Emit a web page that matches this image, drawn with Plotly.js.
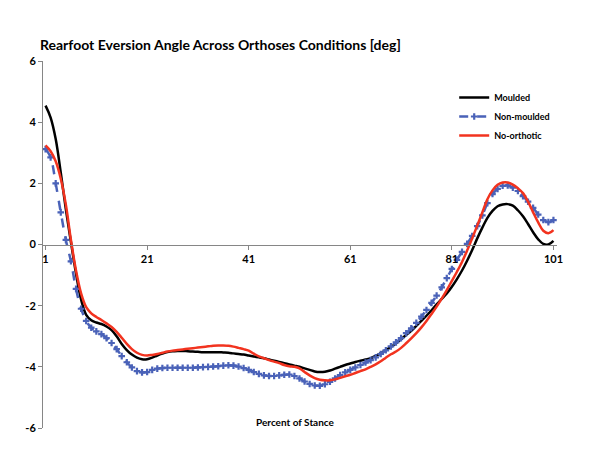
<!DOCTYPE html>
<html>
<head>
<meta charset="utf-8">
<script src="https://cdn.plot.ly/plotly-3.0.1.min.js"></script>
<style>html,body{margin:0;padding:0;background:#fff;}#chart{width:600px;height:473px;}</style>
</head>
<body>
<div id="chart"></div>
<script>
// Percent of stance, 1..101
var stance = [];
for (var i = 1; i <= 101; i++) stance.push(i);

var tickVals = [1, 21, 41, 61, 81, 101];
var tickText = ["1", "21", "41", "61", "81", "101"];
var yTickVals = [-6, -4, -2, 0, 2, 4, 6];
var yTickText = ["-6", "-4", "-2", "0", "2", "4", "6"];

var moulded = [
  4.54, 4.15, 3.45, 2.35, 1.15, 0.08, -0.95, -1.8, -2.3, -2.48,
  -2.55, -2.6, -2.68, -2.8, -3.0, -3.25, -3.45, -3.6, -3.7, -3.75,
  -3.75, -3.7, -3.63, -3.57, -3.52, -3.49, -3.48, -3.48, -3.49, -3.5,
  -3.51, -3.52, -3.52, -3.52, -3.52, -3.53, -3.54, -3.56, -3.58, -3.6,
  -3.63, -3.66, -3.69, -3.72, -3.76, -3.8, -3.84, -3.88, -3.92, -3.96,
  -4.0, -4.05, -4.1, -4.15, -4.17, -4.16, -4.12, -4.06, -4.0, -3.94,
  -3.89, -3.84, -3.8, -3.76, -3.72, -3.64, -3.55, -3.45, -3.35, -3.23,
  -3.1, -2.96, -2.82, -2.66, -2.5, -2.33, -2.15, -1.96, -1.78, -1.6,
  -1.38, -1.13, -0.85, -0.53, -0.18, 0.2, 0.55, 0.87, 1.1, 1.25,
  1.31, 1.32, 1.27, 1.12, 0.92, 0.67, 0.4, 0.17, 0.02, 0.0,
  0.12
];

var nonMoulded = [
  3.12, 2.85, 2.0, 1.05, 0.15, -0.55, -1.45, -2.1, -2.5, -2.72,
  -2.84, -2.93, -3.06, -3.22, -3.42, -3.65, -3.85, -4.02, -4.14, -4.18,
  -4.17, -4.1, -4.06, -4.04, -4.03, -4.03, -4.03, -4.03, -4.03, -4.03,
  -4.02, -4.01, -4.0, -3.99, -3.98, -3.96, -3.95, -3.96, -3.99, -4.04,
  -4.1, -4.17, -4.23, -4.28, -4.3, -4.3, -4.28, -4.26, -4.25, -4.3,
  -4.38, -4.48, -4.56, -4.61, -4.62, -4.57, -4.49, -4.38, -4.27, -4.18,
  -4.1, -4.02, -3.94, -3.86, -3.78, -3.69, -3.58, -3.46, -3.33, -3.2,
  -3.06, -2.9, -2.74, -2.56, -2.36, -2.14, -1.91, -1.67, -1.4, -1.1,
  -0.8, -0.5, -0.24, 0.02, 0.28, 0.6, 0.95, 1.35, 1.65, 1.82,
  1.92, 1.93, 1.86, 1.75, 1.58, 1.4, 1.2, 0.98, 0.8, 0.73,
  0.8
];

var noOrthotic = [
  3.24, 3.05, 2.72, 2.15, 1.3, 0.15, -0.85, -1.6, -2.05, -2.25,
  -2.37, -2.47, -2.58, -2.7, -2.86, -3.05, -3.25, -3.42, -3.54, -3.61,
  -3.63, -3.61, -3.58, -3.54, -3.5, -3.47, -3.45, -3.43, -3.41, -3.39,
  -3.37, -3.35, -3.33, -3.31, -3.3, -3.3, -3.31, -3.34, -3.38, -3.42,
  -3.47, -3.57, -3.66, -3.72, -3.78, -3.83, -3.88, -3.94, -3.98, -4.0,
  -4.05, -4.17, -4.28, -4.37, -4.42, -4.44, -4.44, -4.41, -4.36, -4.31,
  -4.26, -4.2, -4.14, -4.08, -4.0, -3.92, -3.82, -3.7, -3.59, -3.5,
  -3.38, -3.23, -3.07, -2.9, -2.71, -2.5, -2.27, -2.03, -1.77, -1.49,
  -1.19, -0.89, -0.57, -0.2, 0.2, 0.62, 1.05, 1.48, 1.77, 1.95,
  2.03, 2.03, 1.96, 1.84, 1.68, 1.4, 1.05, 0.72, 0.45, 0.37,
  0.47
];

var FONT = "Lato, 'Open Sans', sans-serif";

var traces = [
  {
    x: stance, y: moulded, name: "Moulded", type: "scatter", mode: "lines",
    line: {color: "#000000", width: 2.5, shape: "spline"}
  },
  {
    x: stance, y: nonMoulded, name: "Non-moulded", type: "scatter", mode: "lines+markers",
    line: {color: "#4a62b8", width: 2.5, dash: "dash", shape: "spline"},
    marker: {symbol: "cross", size: 5.5, color: "#4a62b8"}
  },
  {
    x: stance, y: noOrthotic, name: "No-orthotic", type: "scatter", mode: "lines",
    line: {color: "#f2331f", width: 2.5, shape: "spline"}
  }
];

var layout = {
  width: 600, height: 473,
  margin: {l: 43, r: 43, t: 61, b: 45},
  paper_bgcolor: "#ffffff", plot_bgcolor: "#ffffff",
  font: {family: FONT, color: "#000"},
  title: {
    text: "<b>Rearfoot Eversion Angle Across Orthoses Conditions [deg]</b>",
    font: {family: FONT, size: 14, color: "#000"},
    x: 40 / 600, xanchor: "left", xref: "container",
    y: 1 - 45 / 473, yanchor: "middle", yref: "container"
  },
  xaxis: {
    range: [0.5, 101.7],
    anchor: "free", position: 0.5,
    tickmode: "array", tickvals: tickVals, ticktext: tickText,
    tickfont: {family: FONT, size: 11, color: "#000", weight: "bold"},
    ticks: "outside", ticklen: 4, tickcolor: "#868686",
    showline: true, linecolor: "#868686", linewidth: 1,
    showgrid: false, zeroline: false, fixedrange: true
  },
  yaxis: {
    range: [-6, 6],
    tickmode: "array", tickvals: yTickVals, ticktext: yTickText,
    tickfont: {family: FONT, size: 11, color: "#000", weight: "bold"},
    ticks: "outside", ticklen: 4, tickcolor: "#868686",
    showline: true, linecolor: "#868686", linewidth: 1,
    showgrid: false, zeroline: false, fixedrange: true
  },
  legend: {
    x: 0.80, y: 0.94, xanchor: "left", yanchor: "top",
    bgcolor: "rgba(0,0,0,0)",
    font: {family: FONT, size: 9, color: "#000", weight: "bold"},
    itemwidth: 30
  },
  annotations: [
    {
      text: "<b>Percent of Stance</b>", xref: "paper", yref: "y",
      x: 0.492, y: -5.8, showarrow: false,
      font: {family: FONT, size: 10, color: "#000"}
    }
  ]
};

Plotly.newPlot("chart", traces, layout, {displayModeBar: false, staticPlot: true});
</script>
</body>
</html>
